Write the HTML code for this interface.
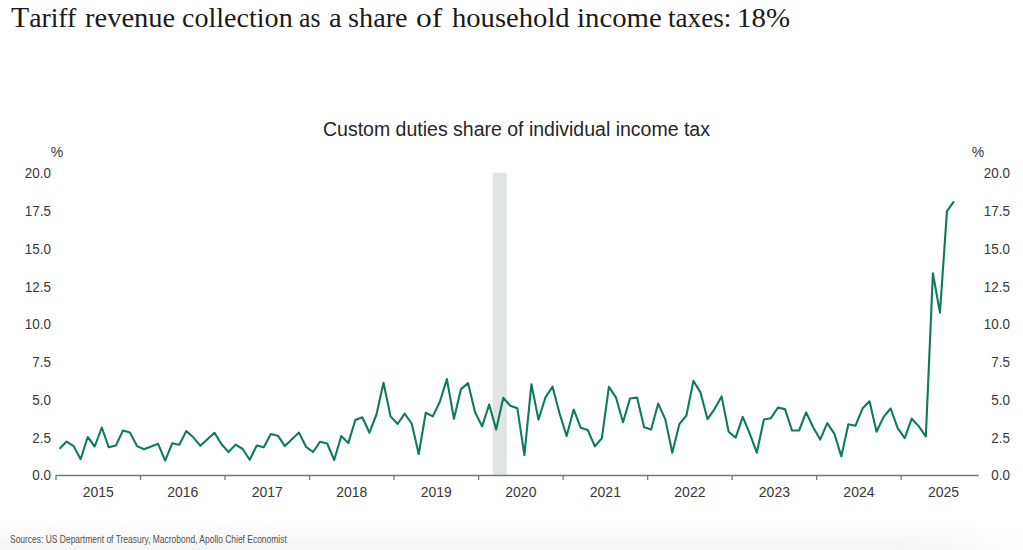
<!DOCTYPE html>
<html><head><meta charset="utf-8"><style>
html,body{margin:0;padding:0;}
body{width:1023px;height:550px;overflow:hidden;position:relative;background:#fff;}
.bg{position:absolute;left:0;top:0;width:1023px;height:550px;background:radial-gradient(ellipse 130px 70px at 1023px 560px,#ffffff 0%,rgba(255,255,255,0) 100%),linear-gradient(to bottom,#ffffff 0px,#ffffff 522px,#f4f4f4 550px);}
.title span{position:absolute;top:3.5px;font-family:"Liberation Serif",serif;font-size:28px;line-height:1;color:#1a1a1a;white-space:nowrap;transform-origin:0 0;}
svg{position:absolute;left:0;top:0;}
</style></head><body>
<div class="bg"></div>
<div class="title"><span style="left:10.63px;transform:scaleX(0.9895)"><b style="font-weight:normal;font-size:30px;line-height:0">T</b>ariff</span><span style="left:84.93px;transform:scaleX(1.0183)">revenue</span><span style="left:181.64px;transform:scaleX(1.0026)">collection</span><span style="left:299.44px;transform:scaleX(0.9177)">as</span><span style="left:329.42px;transform:scaleX(1.0146)">a</span><span style="left:348.37px;transform:scaleX(1.0092)">share</span><span style="left:415.58px;transform:scaleX(1.1253)">of</span><span style="left:452.09px;transform:scaleX(1.0221)">household</span><span style="left:576.50px;transform:scaleX(1.0286)">income</span><span style="left:668.49px;transform:scaleX(0.9693)">taxes:</span><span style="left:736.89px;transform:scaleX(1.0323)">18%</span></div>
<svg width="1023" height="550" viewBox="0 0 1023 550">
<rect x="492.69" y="172.7" width="14.09" height="302.3" fill="#e2e3e3"/>
<g stroke="#787878" stroke-width="1.3">
<line x1="56" y1="475.5" x2="978.8" y2="475.5"/>
<line x1="56.00" y1="475" x2="56.00" y2="480" /><line x1="140.52" y1="475" x2="140.52" y2="480" /><line x1="225.04" y1="475" x2="225.04" y2="480" /><line x1="309.56" y1="475" x2="309.56" y2="480" /><line x1="394.08" y1="475" x2="394.08" y2="480" /><line x1="478.60" y1="475" x2="478.60" y2="480" /><line x1="563.12" y1="475" x2="563.12" y2="480" /><line x1="647.64" y1="475" x2="647.64" y2="480" /><line x1="732.16" y1="475" x2="732.16" y2="480" /><line x1="816.68" y1="475" x2="816.68" y2="480" /><line x1="901.20" y1="475" x2="901.20" y2="480" />
</g>
<polyline points="59.52,448.70 66.56,441.60 73.61,446.10 80.65,459.20 87.69,437.00 94.74,446.50 101.78,427.50 108.82,447.30 115.87,445.60 122.91,430.60 129.95,432.60 137.00,446.10 144.04,449.30 151.08,446.50 158.13,443.80 165.17,460.70 172.21,443.30 179.26,444.80 186.30,431.10 193.34,437.30 200.39,445.80 207.43,439.20 214.47,432.80 221.52,444.30 228.56,452.00 235.60,444.60 242.65,449.00 249.69,459.80 256.74,445.50 263.78,447.30 270.82,434.10 277.87,435.70 284.91,446.10 291.95,439.20 299.00,432.60 306.04,446.80 313.08,452.00 320.12,441.70 327.17,443.50 334.21,460.00 341.25,436.00 348.30,443.10 355.34,420.00 362.38,417.30 369.43,432.70 376.47,414.50 383.51,382.70 390.56,416.40 397.60,424.00 404.64,413.60 411.69,423.50 418.73,454.00 425.77,412.70 432.82,416.40 439.86,401.80 446.90,379.10 453.95,418.70 460.99,389.10 468.03,383.10 475.08,412.20 482.12,426.40 489.16,404.50 496.21,429.60 503.25,397.70 510.29,405.70 517.34,408.20 524.38,455.10 531.42,384.20 538.47,419.60 545.51,397.30 552.55,386.70 559.60,413.60 566.64,436.00 573.68,409.50 580.73,427.80 587.77,430.00 594.81,446.40 601.86,438.20 608.90,386.90 615.94,397.30 622.99,422.20 630.03,398.50 637.07,397.60 644.12,427.30 651.16,429.60 658.20,403.60 665.25,419.10 672.29,452.70 679.33,424.20 686.38,415.50 693.42,380.90 700.46,392.40 707.51,419.10 714.55,409.10 721.59,396.40 728.64,431.80 735.68,437.60 742.73,416.90 749.77,433.60 756.81,452.70 763.86,419.50 770.90,418.20 777.94,407.60 784.99,409.10 792.03,430.50 799.07,430.50 806.12,412.40 813.16,427.30 820.20,439.60 827.25,423.10 834.29,433.60 841.33,456.40 848.38,424.20 855.42,425.80 862.46,408.60 869.50,401.30 876.55,431.80 883.59,416.90 890.63,408.50 897.68,428.20 904.72,438.20 911.76,418.70 918.81,426.40 925.85,436.40 932.89,273.20 939.94,312.60 946.98,211.10 954.02,201.40" fill="none" stroke="#0e7b60" stroke-width="2.1" stroke-linejoin="round" stroke-linecap="butt"/>
<g font-family="Liberation Sans, sans-serif" font-size="14" fill="#383838">
<text x="51" y="480.50" text-anchor="end" transform="translate(51,0) scale(0.96,1) translate(-51,0)">0.0</text><text x="1010" y="480.50" text-anchor="end" transform="translate(1010,0) scale(0.96,1) translate(-1010,0)">0.0</text><text x="51" y="442.75" text-anchor="end" transform="translate(51,0) scale(0.96,1) translate(-51,0)">2.5</text><text x="1010" y="442.75" text-anchor="end" transform="translate(1010,0) scale(0.96,1) translate(-1010,0)">2.5</text><text x="51" y="405.00" text-anchor="end" transform="translate(51,0) scale(0.96,1) translate(-51,0)">5.0</text><text x="1010" y="405.00" text-anchor="end" transform="translate(1010,0) scale(0.96,1) translate(-1010,0)">5.0</text><text x="51" y="367.25" text-anchor="end" transform="translate(51,0) scale(0.96,1) translate(-51,0)">7.5</text><text x="1010" y="367.25" text-anchor="end" transform="translate(1010,0) scale(0.96,1) translate(-1010,0)">7.5</text><text x="51" y="329.50" text-anchor="end" transform="translate(51,0) scale(0.96,1) translate(-51,0)">10.0</text><text x="1010" y="329.50" text-anchor="end" transform="translate(1010,0) scale(0.96,1) translate(-1010,0)">10.0</text><text x="51" y="291.75" text-anchor="end" transform="translate(51,0) scale(0.96,1) translate(-51,0)">12.5</text><text x="1010" y="291.75" text-anchor="end" transform="translate(1010,0) scale(0.96,1) translate(-1010,0)">12.5</text><text x="51" y="254.00" text-anchor="end" transform="translate(51,0) scale(0.96,1) translate(-51,0)">15.0</text><text x="1010" y="254.00" text-anchor="end" transform="translate(1010,0) scale(0.96,1) translate(-1010,0)">15.0</text><text x="51" y="216.25" text-anchor="end" transform="translate(51,0) scale(0.96,1) translate(-51,0)">17.5</text><text x="1010" y="216.25" text-anchor="end" transform="translate(1010,0) scale(0.96,1) translate(-1010,0)">17.5</text><text x="51" y="178.50" text-anchor="end" transform="translate(51,0) scale(0.96,1) translate(-51,0)">20.0</text><text x="1010" y="178.50" text-anchor="end" transform="translate(1010,0) scale(0.96,1) translate(-1010,0)">20.0</text>
<text x="98.26" y="497.3" text-anchor="middle">2015</text><text x="182.78" y="497.3" text-anchor="middle">2016</text><text x="267.30" y="497.3" text-anchor="middle">2017</text><text x="351.82" y="497.3" text-anchor="middle">2018</text><text x="436.34" y="497.3" text-anchor="middle">2019</text><text x="520.86" y="497.3" text-anchor="middle">2020</text><text x="605.38" y="497.3" text-anchor="middle">2021</text><text x="689.90" y="497.3" text-anchor="middle">2022</text><text x="774.42" y="497.3" text-anchor="middle">2023</text><text x="858.94" y="497.3" text-anchor="middle">2024</text><text x="943.46" y="497.3" text-anchor="middle">2025</text>
<text x="57" y="157" text-anchor="middle" >%</text>
<text x="978" y="157" text-anchor="middle">%</text>
</g>
<text x="323" y="136" transform="translate(323,0) scale(1.0,1) translate(-323,0)" font-family="Liberation Sans, sans-serif" font-size="19.5" fill="#262626">Custom duties share of individual income tax</text>
<text x="10" y="543" transform="translate(10,0) scale(0.7997169811320756,1) translate(-10,0)" font-family="Liberation Sans, sans-serif" font-size="10.6" fill="#505050">Sources: US Department of Treasury, Macrobond, Apollo Chief Economist</text>
</svg>
</body></html>
